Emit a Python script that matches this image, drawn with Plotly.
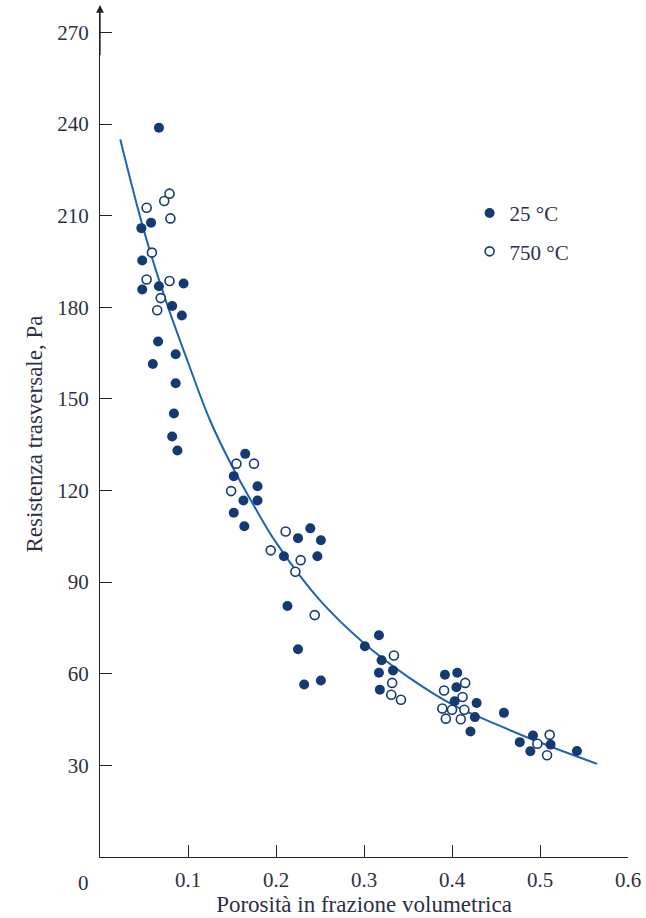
import plotly.graph_objects as go

# 25 °C (filled)
hot_x = [0.067, 0.047, 0.058, 0.048, 0.048, 0.067, 0.095, 0.082, 0.093, 0.066,
         0.086, 0.060, 0.086, 0.084, 0.082, 0.088, 0.165, 0.152, 0.179, 0.163,
         0.179, 0.152, 0.164, 0.239, 0.225, 0.251, 0.209, 0.247, 0.213, 0.225,
         0.232, 0.251, 0.317, 0.301, 0.320, 0.317, 0.333, 0.318, 0.392, 0.406,
         0.405, 0.403, 0.428, 0.426, 0.421, 0.459, 0.477, 0.492, 0.489, 0.512,
         0.542]
hot_y = [238.8, 205.9, 207.7, 195.3, 185.8, 186.9, 187.8, 180.4, 177.3, 168.8,
         164.6, 161.4, 155.1, 145.2, 137.7, 133.1, 132.0, 124.7, 121.4, 116.7,
         116.7, 112.7, 108.3, 107.6, 104.4, 103.7, 98.5, 98.5, 82.2, 68.0,
         56.5, 57.8, 72.6, 69.0, 64.4, 60.3, 61.1, 54.8, 59.7, 60.3,
         55.6, 51.0, 50.4, 45.8, 41.1, 47.2, 37.6, 39.8, 34.6, 36.8,
         34.7]

# 750 °C (open)
cold_x = [0.079, 0.073, 0.053, 0.080, 0.059, 0.053, 0.079, 0.069, 0.065, 0.155,
          0.175, 0.149, 0.211, 0.194, 0.228, 0.222, 0.244, 0.334, 0.332, 0.331,
          0.342, 0.415, 0.391, 0.412, 0.389, 0.400, 0.414, 0.393, 0.410, 0.511,
          0.497, 0.508]
cold_y = [217.2, 214.8, 212.6, 209.1, 197.9, 189.1, 188.6, 183.0, 179.0, 128.8,
          128.8, 119.8, 106.6, 100.4, 97.2, 93.4, 79.2, 66.0, 57.0, 53.1,
          51.5, 57.0, 54.5, 52.4, 48.6, 48.2, 48.2, 45.3, 45.1, 40.0,
          37.1, 33.3]

# fitted curve
fit_x = [0.023, 0.05, 0.075, 0.1, 0.125, 0.15, 0.175, 0.2, 0.25, 0.3,
         0.35, 0.4, 0.45, 0.5, 0.565]
fit_y = [235, 205, 182, 162, 143, 128, 115, 103, 84, 70,
         59, 50, 43.5, 37.5, 30.5]

x_ticks = [0.1, 0.2, 0.3, 0.4, 0.5, 0.6]
y_ticks = [30, 60, 90, 120, 150, 180, 210, 240, 270]

navy = '#143a73'
curve = '#1f63b8'
ink = '#2e2f45'
serif = 'Liberation Serif, Times New Roman, serif'

fig = go.Figure()
fig.add_trace(go.Scatter(x=fit_x, y=fit_y, mode='lines', line_shape='spline',
                         line=dict(color=curve, width=2), showlegend=False))
fig.add_trace(go.Scatter(x=hot_x, y=hot_y, mode='markers', name='25 °C',
                         legendgroup='a',
                         marker=dict(color=navy, size=10, line=dict(width=0))))
fig.add_trace(go.Scatter(x=cold_x, y=cold_y, mode='markers', name='750 °C',
                         legendgroup='b',
                         marker=dict(color='white', size=9,
                                     line=dict(color=navy, width=1.6))))

fig.update_xaxes(range=[0, 0.6], tickvals=x_ticks, ticktext=[str(v) for v in x_ticks],
                 ticks='inside', ticklen=12, tickcolor='#222', showline=True,
                 linecolor='#222', linewidth=1.3, showgrid=False, zeroline=False,
                 automargin=False, ticklabelstandoff=4,
                 tickfont=dict(family=serif, size=21, color=ink),
                 title=dict(text='Porosità in frazione volumetrica', standoff=2,
                            font=dict(family=serif, size=23, color=ink)))
fig.update_yaxes(range=[0, 277], tickvals=y_ticks, ticks='inside', ticklen=12,
                 tickcolor='#222', showline=True, linecolor='#222', linewidth=1.3,
                 showgrid=False, zeroline=False, automargin=False,
                 ticklabelstandoff=6,
                 tickfont=dict(family=serif, size=21, color=ink),
                 title=dict(text='Resistenza trasversale, Pa', standoff=8,
                            font=dict(family=serif, size=23, color=ink)))

# axis arrow and origin label
fig.add_annotation(x=0, y=279, ax=0, ay=262, xref='x', yref='y', axref='x', ayref='y',
                   showarrow=True, arrowhead=2, arrowsize=1.2, arrowwidth=1.3,
                   arrowcolor='#222', text='')
fig.add_annotation(x=0, y=0, xref='x', yref='y', text='0', showarrow=False,
                   xanchor='right', yanchor='top', xshift=-9, yshift=-12,
                   font=dict(family=serif, size=21, color=ink))

fig.update_layout(
    width=646, height=918,
    margin=dict(l=100, r=18, t=11, b=61),
    plot_bgcolor='white', paper_bgcolor='white',
    legend=dict(x=0.70, y=0.785, xanchor='left', yanchor='top',
                tracegroupgap=8, bgcolor='rgba(0,0,0,0)',
                font=dict(family=serif, size=21, color=ink)),
)

# drop the browser's default 8px body margin so the figure fills the window
fig.write_html("out.html", config={'displayModeBar': False},
               post_script="document.body.style.margin='0';")
